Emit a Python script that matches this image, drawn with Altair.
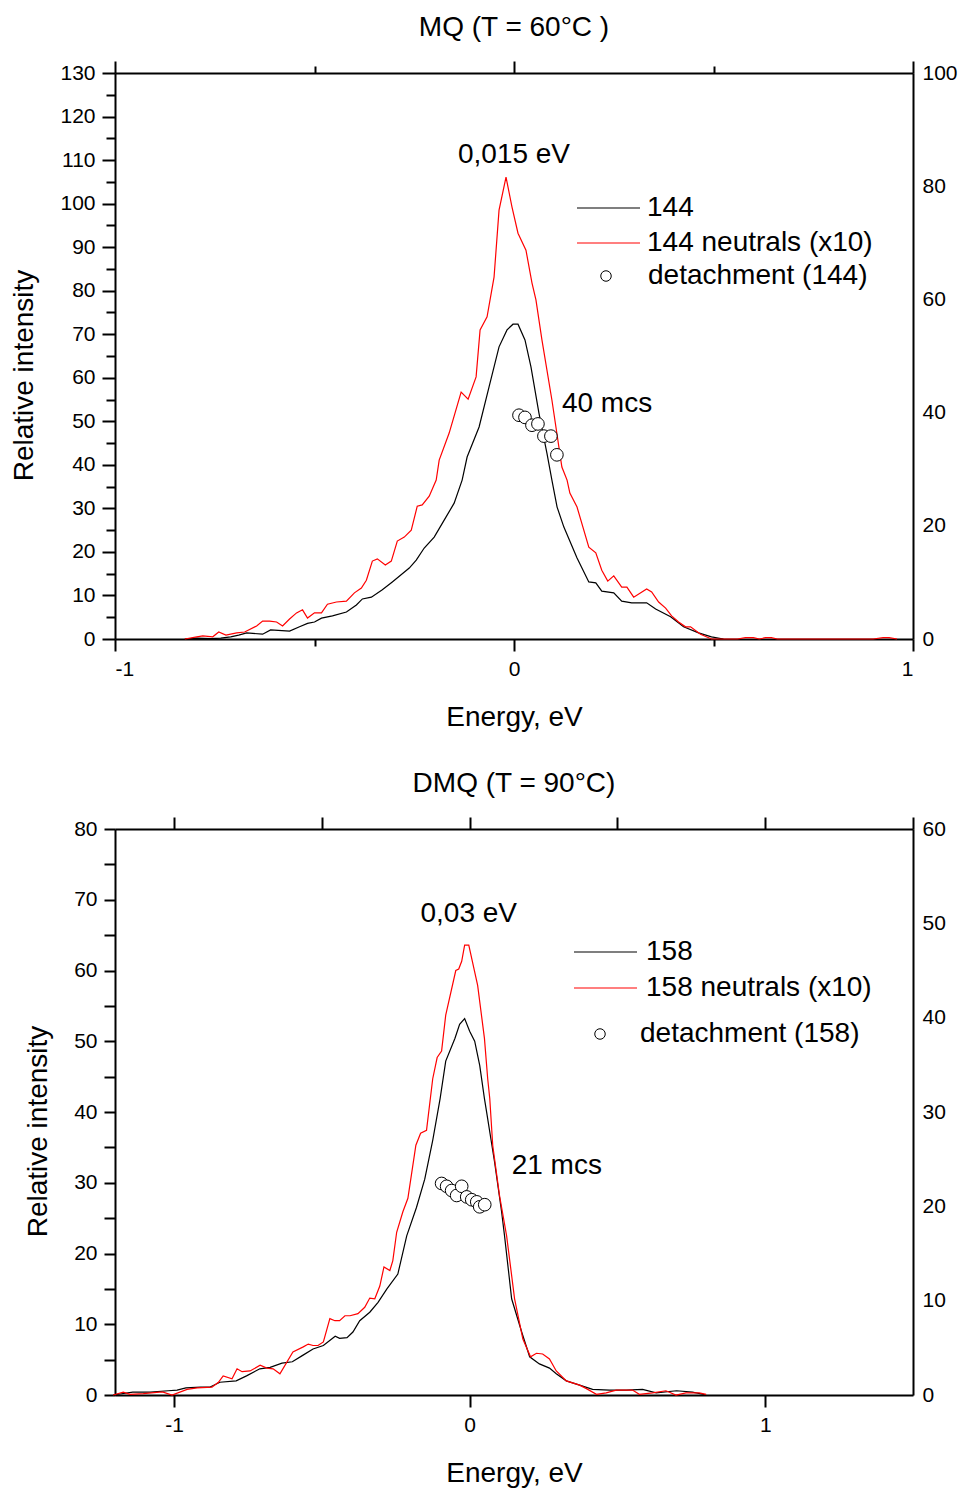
import altair as alt
import pandas as pd

FONT = "Liberation Sans"
BIG = 28

# ---------------- Top panel: MQ (T = 60°C) ----------------
mq_names = ["144", "144 neutrals (x10)", "detachment (144)"]
mq_black_x = [-0.825, -0.795, -0.76, -0.735, -0.71, -0.69, -0.67, -0.63, -0.61, -0.5625, -0.5375, -0.5175,
              -0.5, -0.4825, -0.455, -0.42, -0.395, -0.38, -0.3575, -0.33, -0.305, -0.2625, -0.245, -0.225,
              -0.2, -0.175, -0.15, -0.13, -0.1175, -0.0875, -0.0625, -0.0375, -0.0175, -0.0025, 0.01,
              0.0275, 0.0425, 0.0625, 0.0825, 0.095, 0.108, 0.125, 0.158, 0.1875, 0.205, 0.22, 0.25,
              0.27, 0.295, 0.3325, 0.355, 0.3925, 0.425, 0.4625, 0.495, 0.525]
mq_black_y = [0.0, 0.2, 0.1, 0.2, 0.5, 0.9, 1.4, 1.1, 2.1, 1.8, 2.8, 3.6,
              3.9, 4.8, 5.3, 6.2, 7.8, 9.2, 9.6, 11.3, 13.1, 16.3, 18.1, 20.9,
              23.4, 27.3, 31.2, 36.5, 41.8, 48.7, 57.9, 67.1, 71.0, 72.3, 72.3,
              68.7, 62.5, 51.9, 42.7, 36.5, 30.3, 25.7, 18.6, 13.1, 12.9, 11.0, 10.6,
              8.7, 8.3, 8.3, 6.9, 5.1, 2.8, 1.4, 0.5, 0.0]
mq_red_x = [-0.825, -0.795, -0.78, -0.755, -0.74, -0.722, -0.695, -0.675, -0.645, -0.63, -0.6125, -0.595,
            -0.58, -0.5625, -0.545, -0.53, -0.5175, -0.5, -0.4825, -0.4675, -0.445, -0.42, -0.4, -0.3825,
            -0.37, -0.355, -0.3425, -0.3225, -0.3075, -0.2925, -0.275, -0.2575, -0.2425, -0.23, -0.2125,
            -0.195, -0.1875, -0.1625, -0.1325, -0.115, -0.095, -0.085, -0.0675, -0.05, -0.0375, -0.02,
            -0.005, 0.01, 0.03, 0.045, 0.055, 0.07, 0.095, 0.12, 0.133, 0.14, 0.158, 0.1875, 0.205, 0.22,
            0.235, 0.25, 0.27, 0.283, 0.3, 0.3325, 0.345, 0.3625, 0.38, 0.395, 0.4125, 0.43, 0.4425,
            0.4675, 0.495, 0.5125, 0.56, 0.58, 0.6, 0.615, 0.63, 0.645, 0.66, 0.9, 0.925, 0.94, 0.96]
mq_red_y = [0.0, 0.5, 0.7, 0.5, 1.6, 0.9, 1.4, 1.6, 3.0, 4.1, 4.1, 3.9,
            3.0, 4.6, 6.0, 6.7, 4.8, 6.0, 6.0, 8.0, 8.5, 8.7, 10.6, 11.7,
            13.5, 17.9, 18.4, 17.0, 17.9, 22.5, 23.4, 25.0, 30.5, 30.8, 32.8,
            36.5, 41.1, 47.3, 56.7, 55.1, 60.2, 71.0, 74.0, 83.1, 98.5, 106.1,
            99.2, 93.2, 89.3, 81.8, 77.9, 68.7, 54.9, 39.5, 36.5, 33.5, 30.3, 21.1, 19.8, 15.8,
            13.3, 14.5, 11.9, 11.9, 9.6, 11.5, 10.8, 8.5, 7.1, 5.3, 3.9, 2.8, 2.8,
            1.1, 0.0, 0.0, 0.0, 0.3, 0.3, 0.0, 0.3, 0.3, 0.0, 0.0, 0.3, 0.3, 0.0]
mq_det_x = [0.0125, 0.0275, 0.045, 0.06, 0.075, 0.0925, 0.1075]
mq_det_y = [51.4, 50.9, 49.1, 49.4, 46.6, 46.6, 42.3]

# ---------------- Bottom panel: DMQ (T = 90°C) ----------------
dmq_names = ["158", "158 neutrals (x10)", "detachment (158)"]
dmq_black_x = [-1.206, -1.14, -1.08, -1.02, -0.99, -0.96, -0.91, -0.88, -0.845, -0.79, -0.755, -0.71,
               -0.675, -0.635, -0.6, -0.565, -0.53, -0.495, -0.455, -0.44, -0.415, -0.395, -0.372,
               -0.338, -0.31, -0.28, -0.243, -0.213, -0.18, -0.152, -0.125, -0.1, -0.081, -0.05,
               -0.034, -0.017, 0.0, 0.017, 0.034, 0.05, 0.057, 0.084, 0.108, 0.118, 0.142, 0.176,
               0.203, 0.236, 0.27, 0.293, 0.327, 0.372, 0.416, 0.473, 0.53, 0.585, 0.631, 0.7, 0.754, 0.8]
dmq_black_y = [0.0, 0.4, 0.4, 0.6, 0.7, 1.0, 1.1, 1.1, 1.8, 2.0, 2.7, 3.7,
               3.9, 4.5, 4.7, 5.6, 6.5, 7.0, 8.3, 8.0, 8.1, 8.9, 10.5,
               11.7, 13.1, 15.0, 17.1, 22.5, 26.5, 30.5, 36.0, 41.9, 47.2, 50.4,
               52.4, 53.2, 51.4, 50.0, 46.6, 41.9, 40.1, 33.0, 25.9, 22.5, 13.6, 8.9,
               5.4, 4.4, 3.8, 3.0, 2.0, 1.4, 0.8, 0.7, 0.7, 0.8, 0.3, 0.6, 0.4, 0.0]
dmq_red_x = [-1.206, -1.172, -1.149, -1.104, -1.05, -1.037, -1.007, -0.956, -0.922, -0.872, -0.85, -0.834,
             -0.804, -0.787, -0.77, -0.743, -0.709, -0.686, -0.665, -0.642, -0.598, -0.563, -0.546, -0.53,
             -0.513, -0.495, -0.473, -0.456, -0.44, -0.422, -0.405, -0.378, -0.355, -0.338, -0.321,
             -0.304, -0.29, -0.27, -0.26, -0.247, -0.226, -0.209, -0.182, -0.166, -0.146, -0.125, -0.11,
             -0.095, -0.081, -0.047, -0.037, -0.027, -0.017, -0.003, 0.027, 0.05, 0.061, 0.068, 0.078,
             0.101, 0.125, 0.152, 0.18, 0.206, 0.226, 0.247, 0.27, 0.293, 0.327, 0.372, 0.395, 0.429,
             0.462, 0.496, 0.551, 0.574, 0.619, 0.664, 0.698, 0.732, 0.777, 0.8]
dmq_red_y = [0.0, 0.4, 0.1, 0.2, 0.4, 0.4, 0.0, 0.8, 1.0, 1.1, 1.8, 2.7,
             2.3, 3.7, 3.3, 3.4, 4.2, 3.8, 3.7, 3.0, 6.1, 6.8, 7.2, 7.0,
             7.0, 7.5, 10.8, 10.5, 10.5, 11.2, 11.2, 11.5, 12.4, 13.7, 13.6,
             15.4, 18.1, 17.6, 19.0, 23.0, 25.9, 27.8, 35.3, 37.0, 37.4, 44.7, 47.7,
             48.6, 53.7, 60.0, 60.2, 61.3, 63.6, 63.6, 57.9, 50.4, 44.7, 41.9, 35.3,
             28.2, 22.5, 13.6, 7.9, 5.4, 5.9, 5.8, 5.1, 3.4, 2.0, 1.4, 0.9, 0.1,
             0.3, 0.7, 0.7, 0.1, 0.3, 0.6, 0.0, 0.3, 0.3, 0.1]
dmq_det_x = [-0.095, -0.078, -0.061, -0.044, -0.027, -0.010, 0.007, 0.024, 0.034, 0.051]
dmq_det_y = [29.9, 29.5, 28.9, 28.2, 29.5, 28.0, 27.6, 27.3, 26.6, 26.9]

W, H = 798, 566


def axis(orient, values, tick, labels=False, domain=False, title=None, **kw):
    return alt.Axis(orient=orient, values=values, tickSize=tick, tickWidth=2, tickColor="black",
                    ticks=tick > 0, labels=labels, domain=domain, domainWidth=2, domainColor="black",
                    grid=False, title=title, labelFont=FONT, labelFontSize=21, labelColor="black",
                    titleFont=FONT, titleFontSize=BIG, titleFontWeight="normal", titleColor="black", **kw)


def panel(title, xdom, ydom, ydom_r, bx, by, rx, ry, dx, dy, names,
          bottom_major, bottom_minor, top_major, top_minor, left_major, left_minor,
          major_len, minor_len, right_vals, peak, peak_text, mcs, mcs_text, leg):
    xs = alt.Scale(domain=xdom, nice=False, zero=False)
    ys = alt.Scale(domain=ydom, nice=False, zero=False)

    lines_df = pd.DataFrame({
        "x": bx + rx,
        "y": by + ry,
        "series": [names[0]] * len(bx) + [names[1]] * len(rx),
        "k": list(range(len(bx))) + list(range(len(rx))),
    })
    det_df = pd.DataFrame({"x": dx, "y": dy, "lab": [names[2]] * len(dx)})

    x_bottom = axis("bottom", bottom_major, 12, labels=True, domain=True, title="Energy, eV",
                    labelPadding=7, titlePadding=24,
                    labelExpr="datum.value < 0 ? '-' + abs(datum.value) : '' + datum.value")
    y_left = axis("left", left_major, major_len, labels=True, domain=True, title="Relative intensity",
                  labelPadding=7, titlePadding=21, titleY=H / 2 + 19)

    lines = alt.Chart(lines_df).mark_line(strokeWidth=1.2).encode(
        x=alt.X("x:Q", scale=xs, axis=x_bottom),
        y=alt.Y("y:Q", scale=ys, axis=y_left),
        order="k:Q",
        color=alt.Color("series:N", scale=alt.Scale(domain=names[:2], range=["black", "red"]),
                        legend=alt.Legend(orient="none", legendX=leg["x"], legendY=leg["y1"], title=None,
                                          padding=0, symbolType="M-3.15,0H3.15", symbolSize=400,
                                          symbolStrokeWidth=1.2, symbolOffset=leg["so1"],
                                          labelOffset=leg["lo1"], rowPadding=leg["rp"], labelLimit=500,
                                          labelFont=FONT, labelFontSize=BIG, labelColor="black")),
    )
    points = alt.Chart(det_df).mark_point(filled=True, shape="circle", stroke="black",
                                          strokeWidth=1, size=160, opacity=1).encode(
        x=alt.X("x:Q", scale=xs),
        y=alt.Y("y:Q", scale=ys),
        fill=alt.Fill("lab:N", scale=alt.Scale(domain=[names[2]], range=["white"]),
                      legend=alt.Legend(orient="none", legendX=leg["x"], legendY=leg["y2"], title=None,
                                        padding=0, symbolType="circle", symbolSize=110,
                                        symbolStrokeColor="black", symbolStrokeWidth=1,
                                        symbolOpacity=1,
                                        symbolOffset=leg["so2"], labelOffset=leg["lo2"], labelLimit=500,
                                        labelFont=FONT, labelFontSize=BIG, labelColor="black")),
    )
    peak_df = pd.DataFrame({"x": [peak[0]], "y": [peak[1]], "t": [peak_text]})
    mcs_df = pd.DataFrame({"x": [mcs[0]], "y": [mcs[1]], "t": [mcs_text]})
    t1 = alt.Chart(peak_df).mark_text(font=FONT, fontSize=BIG, color="black", align="center",
                                      baseline="middle").encode(
        x=alt.X("x:Q", scale=xs), y=alt.Y("y:Q", scale=ys), text="t:N")
    t2 = alt.Chart(mcs_df).mark_text(font=FONT, fontSize=BIG, color="black", align="left",
                                     baseline="middle").encode(
        x=alt.X("x:Q", scale=xs), y=alt.Y("y:Q", scale=ys), text="t:N")

    main = alt.layer(lines, points, t1, t2)

    dummy = pd.DataFrame({"x": xdom, "y": ydom, "yr": ydom_r})
    d1 = alt.Chart(dummy).mark_point(opacity=0).encode(
        x=alt.X("x:Q", scale=alt.Scale(domain=xdom, nice=False, zero=False),
                axis=axis("bottom", bottom_minor, 7) if bottom_minor else None),
        y=alt.Y("y:Q", scale=alt.Scale(domain=ydom, nice=False, zero=False),
                axis=axis("left", left_minor, minor_len)),
    )
    d2 = alt.Chart(dummy).mark_point(opacity=0).encode(
        x=alt.X("x:Q", scale=alt.Scale(domain=xdom, nice=False, zero=False),
                axis=axis("top", top_major, 12, domain=True)),
        y=alt.Y("yr:Q", scale=alt.Scale(domain=ydom_r, nice=False, zero=False),
                axis=axis("right", right_vals, 0, labels=True, domain=True, labelPadding=9)),
    )
    layers = [main, d1, d2]
    if top_minor:
        d3 = alt.Chart(dummy).mark_point(opacity=0).encode(
            x=alt.X("x:Q", scale=alt.Scale(domain=xdom, nice=False, zero=False),
                    axis=axis("top", top_minor, 7)),
            y=alt.Y("y:Q", scale=alt.Scale(domain=ydom, nice=False, zero=False), axis=None),
        )
        layers.append(d3)

    return alt.layer(*layers).resolve_scale(x="independent", y="independent").properties(
        width=W, height=H,
        title=alt.Title(title, font=FONT, fontSize=BIG, fontWeight="normal", color="black",
                        anchor="middle", frame="group", offset=18),
    )


top = panel("MQ (T = 60°C )", [-1, 1], [0, 130], [0, 100],
            mq_black_x, mq_black_y, mq_red_x, mq_red_y, mq_det_x, mq_det_y, mq_names,
            [-1, 0, 1], [-0.5, 0.5], [-1, 0, 1], [-0.5, 0.5],
            list(range(0, 131, 10)), list(range(5, 130, 10)), 13, 9,
            list(range(0, 101, 20)),
            (0.0, 111.2), "0,015 eV", (0.12, 54.0), "40 mcs",
            {"x": 461, "y1": 121, "y2": 189, "so1": 18.5, "lo1": 24.5, "rp": 7, "so2": 16, "lo2": 28})

bottom = panel("DMQ (T = 90°C)", [-1.2, 1.5], [0, 80], [0, 60],
               dmq_black_x, dmq_black_y, dmq_red_x, dmq_red_y, dmq_det_x, dmq_det_y, dmq_names,
               [-1, 0, 1], None, [-1, -0.5, 0, 0.5, 1, 1.5], None,
               list(range(0, 81, 10)), list(range(5, 80, 10)), 11, 11,
               list(range(0, 61, 10)),
               (-0.003, 68.0), "0,03 eV", (0.142, 32.3), "21 mcs",
               {"x": 459, "y1": 109, "y2": 191, "so1": 17.5, "lo1": 26.5, "rp": 8, "so2": 12, "lo2": 26})

chart = alt.vconcat(top, bottom, spacing=37).resolve_scale(
    color="independent", fill="independent"
).resolve_legend(
    color="independent", fill="independent"
).properties(
    padding={"left": 2, "top": 5, "right": 0, "bottom": 0}
).configure_view(stroke=None).configure(background="white")

chart.save("out.html", embed_options={"renderer": "svg", "actions": False})
